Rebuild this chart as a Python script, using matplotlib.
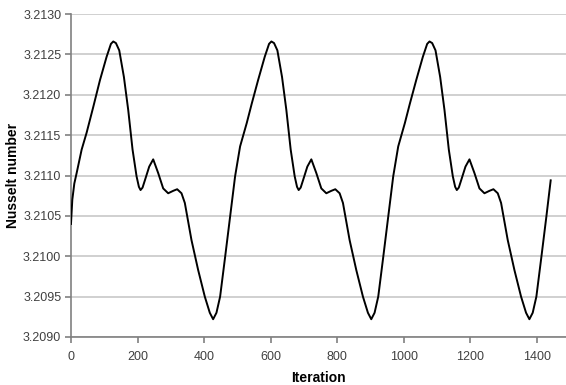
import matplotlib
matplotlib.use('Agg')
import matplotlib.pyplot as plt

# values (three cycles)
iteration = [0, 4, 10, 17, 32, 47, 67, 87, 107, 120, 127, 135, 145, 159, 172, 185, 197, 204, 209,
             215, 222, 235, 247, 262, 277, 292, 307, 319, 332, 342, 362, 382, 402, 417, 427, 437,
             448, 463, 478, 493, 508, 528, 543, 562, 582, 595, 602, 610, 620, 634, 647, 660,
             672, 679, 684, 690, 697, 710, 722, 737, 752, 767, 782, 794, 807, 817, 837, 857, 877, 892,
             902, 912, 923, 938, 953, 968, 983, 1003, 1018, 1037, 1057, 1070, 1077, 1085,
             1095, 1109, 1122, 1135, 1147, 1154, 1159, 1165, 1172, 1185, 1197, 1212, 1227, 1242, 1257,
             1269, 1282, 1292, 1312, 1332, 1352, 1367, 1377, 1387, 1398, 1413, 1428, 1441]
nusselt = [3.21040, 3.21070, 3.21090, 3.21103, 3.21132, 3.21153, 3.21185, 3.21218, 3.21247,
           3.21263, 3.21266, 3.21264, 3.21255, 3.21222, 3.21181, 3.21132, 3.21099, 3.21086, 3.21082,
           3.21085, 3.21094, 3.21111, 3.21120, 3.21103, 3.21084, 3.21078, 3.21081, 3.21083, 3.21078,
           3.21066, 3.21020, 3.20983, 3.20950, 3.20930, 3.20922, 3.20930, 3.20950, 3.20999,
           3.21049, 3.21099, 3.21136, 3.21165, 3.21189, 3.21218, 3.21247, 3.21263, 3.21266,
           3.21264, 3.21255, 3.21222, 3.21181, 3.21132, 3.21099, 3.21086, 3.21082, 3.21085, 3.21094, 3.21111,
           3.21120, 3.21103, 3.21084, 3.21078, 3.21081, 3.21083, 3.21078, 3.21066, 3.21020,
           3.20983, 3.20950, 3.20930, 3.20922, 3.20930, 3.20950, 3.20999, 3.21049, 3.21099,
           3.21136, 3.21165, 3.21189, 3.21218, 3.21247, 3.21263, 3.21266, 3.21264, 3.21255,
           3.21222, 3.21181, 3.21132, 3.21099, 3.21086, 3.21082, 3.21085, 3.21094, 3.21111, 3.21120, 3.21103,
           3.21084, 3.21078, 3.21081, 3.21083, 3.21078, 3.21066, 3.21020, 3.20983, 3.20950,
           3.20930, 3.20922, 3.20930, 3.20950, 3.20999, 3.21049, 3.21094]

x_ticks = [0, 200, 400, 600, 800, 1000, 1200, 1400]
y_ticks = [3.2090, 3.2095, 3.2100, 3.2105, 3.2110, 3.2115, 3.2120, 3.2125, 3.2130]

plt.rcParams['font.family'] = ['Liberation Sans', 'DejaVu Sans']

fig = plt.figure(figsize=(5.66, 3.85), dpi=100)
ax = fig.add_axes([0.1254, 0.1247, 0.8746, 0.8389])

ax.plot(iteration, nusselt, color='black', lw=1.4, zorder=3)

ax.set_xlim(0, 1487)
ax.set_ylim(3.2090, 3.2130)
ax.set_xticks(x_ticks)
ax.set_yticks(y_ticks)
ax.set_yticklabels(['%.4f' % v for v in y_ticks])
ax.grid(axis='y', color='#c8c8c8', lw=1.2)
ax.set_axisbelow(True)

for side in ['top', 'right']:
    ax.spines[side].set_visible(False)
for side in ['left', 'bottom']:
    ax.spines[side].set_color('#808080')
    ax.spines[side].set_linewidth(1.2)
ax.tick_params(colors='#808080', length=4, width=1.2, labelsize=9, labelcolor='#404040')
ax.tick_params(axis='x', pad=6)
ax.tick_params(axis='y', pad=3)

ax.set_xlabel('Iteration', fontsize=10, fontweight='bold', va='center')
ax.set_ylabel('Nusselt number', fontsize=10, fontweight='bold', va='center')
ax.xaxis.set_label_coords(0.5, -0.126)
ax.yaxis.set_label_coords(-0.117, 0.5)

fig.savefig('out.png', dpi=100)
